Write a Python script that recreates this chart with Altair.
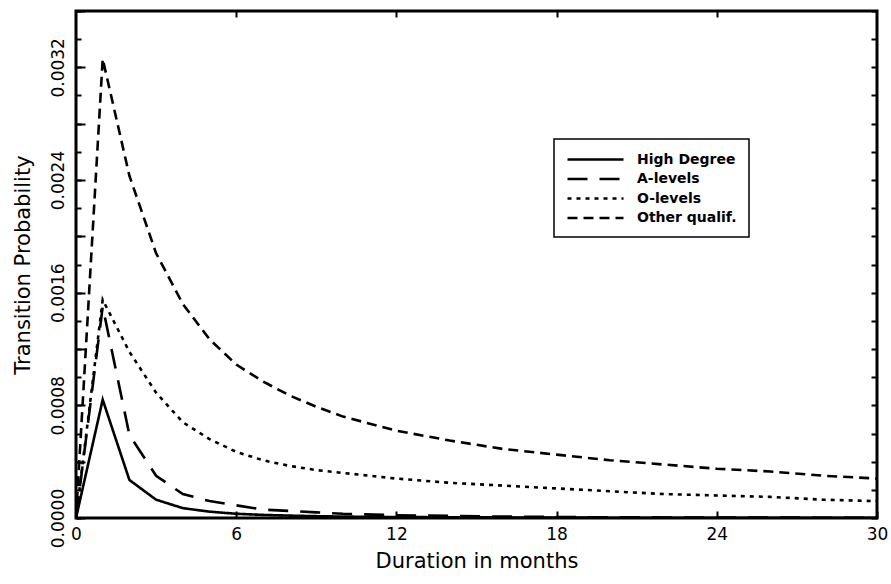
import altair as alt
import pandas as pd

# Duration (months) at which the transition probabilities are tabulated
months = [0, 1, 2, 3, 4, 5, 6, 7, 8, 9, 10, 12, 14, 16, 18, 20, 22, 24, 26, 28, 30]

# Transition probabilities by qualification group
high_degree = [0.0, 0.00084, 0.00027, 0.00013, 0.00007, 0.000045, 0.00003, 0.000022,
               0.000017, 0.000013, 0.00001, 0.000007, 0.000005, 0.000004, 0.000003,
               0.000002, 0.000002, 0.0000015, 0.000001, 0.000001, 0.000001]
a_levels = [0.0, 0.0015, 0.00059, 0.0003, 0.00017, 0.00012, 0.00009, 0.00006,
            0.00005, 0.00004, 0.00003, 0.00002, 0.000015, 0.00001, 0.000007,
            0.000005, 0.000004, 0.000003, 0.000003, 0.000002, 0.000002]
o_levels = [0.0, 0.00155, 0.00118, 0.00089, 0.00068, 0.00056, 0.00047, 0.00041,
            0.00037, 0.00034, 0.00032, 0.00028, 0.00025, 0.00023, 0.00021,
            0.00019, 0.00017, 0.00016, 0.00015, 0.00013, 0.00012]
other_qualif = [0.0, 0.00326, 0.00243, 0.00188, 0.00152, 0.00127, 0.00109, 0.00097,
                0.00087, 0.00079, 0.00072, 0.00062, 0.00055, 0.00049, 0.00045,
                0.00041, 0.00038, 0.00035, 0.00033, 0.0003, 0.00028]

series_names = ["High Degree", "A-levels", "O-levels", "Other qualif."]
series_values = [high_degree, a_levels, o_levels, other_qualif]
dash_styles = [[1, 0], [20, 12], [4, 5], [10, 6]]
line_widths = [2.6, 2.6, 4, 2.6]

x_ticks = [0, 6, 12, 18, 24, 30]
y_major = [round(i * 0.0004, 4) for i in range(10)]
y_minor = [round(i * 0.0002, 4) for i in range(19)]

rows = []
for name, vals in zip(series_names, series_values):
    for m, v in zip(months, vals):
        rows.append({"month": m, "prob": v, "series": name})
df = pd.DataFrame(rows)

FONT = "DejaVu Sans"
x_scale = alt.Scale(domain=[0, 30], nice=False, zero=True)
y_scale = alt.Scale(domain=[0, 0.0036], nice=False, zero=True)

# Legend sample: a horizontal stroke drawn mostly to the right of the symbol slot
legend_stroke = "M-1,0H7"

legend = alt.Legend(title=None, orient="none", legendX=478, legendY=128,
                    direction="vertical", symbolType=legend_stroke,
                    symbolSize=196, symbolStrokeColor="black", labelFont=FONT,
                    labelFontSize=14, labelFontWeight="bold", labelColor="black",
                    labelOffset=54, rowPadding=3.5, padding=12,
                    strokeColor="black", fillColor="white")

lines = alt.Chart(df).mark_line(color="black", clip=True).encode(
    x=alt.X("month:Q", scale=x_scale,
            axis=alt.Axis(orient="bottom", values=x_ticks, format="d", domain=False,
                          grid=False, tickSize=7, offset=-7, tickWidth=2,
                          tickColor="black", labelFont=FONT, labelFontSize=17,
                          labelColor="black", labelPadding=8, labelFlush=False,
                          title="Duration in months", titleFont=FONT,
                          titleFontSize=21, titleFontWeight="normal",
                          titleColor="black", titlePadding=8)),
    y=alt.Y("prob:Q", scale=y_scale,
            axis=alt.Axis(orient="left", values=y_major, domain=False, grid=False,
                          tickSize=9, offset=-9, tickWidth=2, tickColor="black",
                          labelExpr="round(datum.value*10000) % 8 == 0 ? format(datum.value, '.4f') : ''",
                          labelAngle=270, labelAlign="center", labelBaseline="bottom",
                          labelFont=FONT, labelFontSize=17, labelColor="black",
                          labelPadding=9, labelFlush=False,
                          title="Transition Probability", titleFont=FONT,
                          titleFontSize=21, titleFontWeight="normal",
                          titleColor="black", titlePadding=16)),
    strokeDash=alt.StrokeDash(
        "series:N",
        scale=alt.Scale(domain=series_names, range=dash_styles),
        legend=legend,
    ),
    strokeWidth=alt.StrokeWidth(
        "series:N",
        scale=alt.Scale(domain=series_names, range=line_widths),
        legend=legend,
    ),
)

# Inward minor ticks on the left frame and ticks along the top frame
minor_left = alt.Chart(df).mark_point(opacity=0).encode(
    x=alt.X("month:Q", scale=x_scale,
            axis=alt.Axis(orient="top", values=x_ticks[1:-1], domain=False, grid=False,
                          labels=False, tickSize=6, offset=-6, tickWidth=2,
                          tickColor="black", title=None)),
    y=alt.Y("prob:Q", scale=y_scale,
            axis=alt.Axis(orient="left", values=y_minor, domain=False, grid=False,
                          labels=False, tickSize=5, offset=-5, tickWidth=2,
                          tickColor="black", title=None)),
)

# Inward ticks on the right frame
right_ticks = alt.Chart(df).mark_point(opacity=0).encode(
    x=alt.X("month:Q", scale=x_scale, axis=None),
    y=alt.Y("prob:Q", scale=y_scale,
            axis=alt.Axis(orient="right", values=y_minor, domain=False, grid=False,
                          labels=False, tickSize=6, offset=-6, tickWidth=2,
                          tickColor="black", title=None)),
)

chart = alt.layer(lines, minor_left, right_ticks).resolve_axis(
    x="independent", y="independent"
).properties(
    width=801,
    height=507,
    padding={"left": 76, "top": 11, "right": 14, "bottom": 66},
    autosize=alt.AutoSizeParams(type="none"),
    background="white",
).configure_view(
    stroke="black", strokeWidth=3
).configure_legend(
    strokeWidth=1.5
)

chart.save("out.html", embed_options={"renderer": "svg", "actions": False})
